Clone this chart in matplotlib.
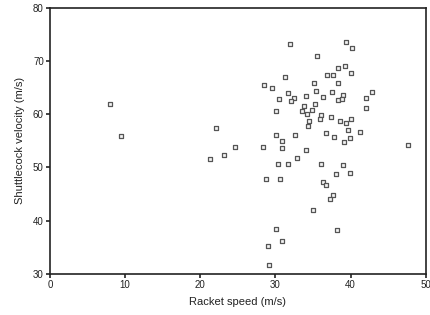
import matplotlib
matplotlib.use("Agg")
import matplotlib.pyplot as plt

plt.rcParams['font.family'] = ['Liberation Sans', 'DejaVu Sans']

racket_speed = [
    8.0, 9.4, 22.1, 21.3, 23.1, 24.6, 28.3, 28.5, 29.6, 31.3,
    31.9, 39.4, 40.2, 35.5, 38.3, 39.2, 40.0, 36.8, 37.7, 38.3,
    35.1, 35.4, 37.5, 39.0, 42.9, 42.0, 31.7, 32.4, 30.5, 34.0,
    36.3, 32.1, 38.3, 38.8, 35.2, 33.8, 42.0, 30.1, 33.5, 34.9,
    34.2, 36.1, 37.4, 34.4, 38.6, 39.4, 40.0, 34.3, 39.7, 41.2,
    36.7, 37.8, 39.9, 39.1, 47.6, 30.1, 32.6, 30.9, 30.9, 34.0,
    32.8, 30.3, 31.7, 36.1, 39.0, 38.0, 39.9, 28.7, 30.6, 36.3,
    36.7, 37.7, 37.3, 35.0, 30.1, 38.2, 30.9, 29.0, 29.2, 35.9,
]
shuttle_velocity = [
    61.9, 55.9, 57.4, 51.6, 52.3, 53.9, 53.8, 65.5, 64.9, 67.0,
    73.2, 73.5, 72.5, 71.0, 68.6, 69.1, 67.8, 67.3, 67.3, 65.9,
    65.8, 64.4, 64.2, 63.6, 64.1, 63.0, 64.0, 63.0, 62.8, 63.5,
    63.3, 62.4, 62.6, 62.9, 61.9, 61.6, 61.1, 60.5, 60.6, 60.8,
    60.0, 59.8, 59.4, 58.8, 58.7, 58.4, 59.0, 57.8, 57.0, 56.6,
    56.4, 55.8, 55.5, 54.7, 54.3, 56.1, 56.0, 55.0, 53.7, 53.2,
    51.8, 50.6, 50.7, 50.7, 50.5, 48.8, 49.0, 47.8, 47.8, 47.2,
    46.7, 44.8, 44.0, 42.0, 38.5, 38.3, 36.2, 35.3, 31.7, 59.1,
]
x_ticks = [0, 10, 20, 30, 40, 50]
y_ticks = [30, 40, 50, 60, 70, 80]

fig = plt.figure(figsize=(4.31, 3.15), dpi=100)
ax = fig.add_axes([0.116, 0.130, 0.872, 0.846])
ax.scatter(racket_speed, shuttle_velocity, marker='s', s=11,
           facecolors='#f4f4f4', edgecolors='#555555', linewidths=0.9)
ax.set_xlim(0, 50)
ax.set_ylim(30, 80)
ax.set_xticks(x_ticks)
ax.set_yticks(y_ticks)
ax.tick_params(direction='out', length=3, width=1.2, labelsize=7, pad=1.5, colors='#222222')
for s in ax.spines.values():
    s.set_linewidth(1.2)
    s.set_color('#222222')
ax.set_xlabel('Racket speed (m/s)', fontsize=8, labelpad=5, color='#222222')
ax.set_ylabel('Shuttlecock velocity (m/s)', fontsize=8, labelpad=6, color='#222222')
fig.savefig('out.png', dpi=100)
